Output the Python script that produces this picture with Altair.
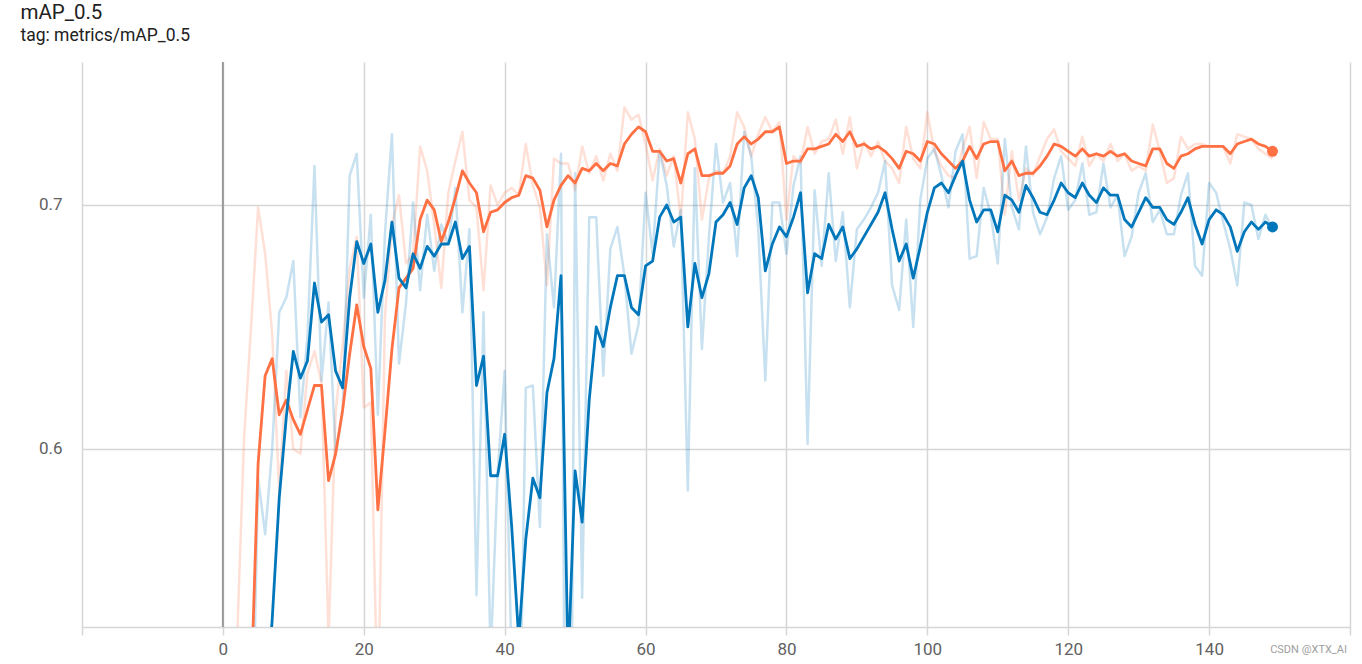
import altair as alt
import pandas as pd

epochs = list(range(150))

orange_smooth = [0.30,0.38,0.43,0.47,0.50,0.594,0.630,0.637,0.614,0.620,
0.612,0.606,0.616,0.626,0.626,0.587,0.598,0.616,0.639,0.659,
0.642,0.633,0.575,0.607,0.641,0.666,0.670,0.674,0.694,0.702,
0.698,0.685,0.693,0.703,0.714,0.709,0.705,0.689,0.697,0.698,
0.701,0.703,0.704,0.712,0.711,0.706,0.691,0.702,0.708,0.712,
0.709,0.715,0.714,0.717,0.714,0.717,0.716,0.725,0.729,0.732,
0.730,0.722,0.722,0.718,0.719,0.709,0.721,0.723,0.712,0.712,
0.713,0.713,0.716,0.725,0.728,0.725,0.727,0.730,0.730,0.732,
0.717,0.718,0.718,0.723,0.723,0.724,0.725,0.729,0.726,0.730,
0.724,0.725,0.723,0.724,0.722,0.719,0.715,0.722,0.721,0.718,
0.726,0.725,0.721,0.718,0.715,0.718,0.724,0.719,0.725,0.726,
0.726,0.714,0.718,0.712,0.713,0.713,0.716,0.720,0.725,0.724,
0.722,0.720,0.723,0.720,0.721,0.720,0.722,0.720,0.721,0.718,
0.717,0.716,0.723,0.723,0.717,0.715,0.720,0.721,0.723,0.724,
0.724,0.724,0.724,0.721,0.725,0.726,0.727,0.725,0.724,0.722]

orange_raw = [0.05,0.25,0.52,0.604,0.65,0.699,0.680,0.647,0.582,0.632,
0.600,0.598,0.631,0.640,0.627,0.522,0.615,0.643,0.674,0.687,
0.617,0.619,0.488,0.654,0.692,0.704,0.676,0.680,0.724,0.714,
0.692,0.666,0.705,0.718,0.730,0.702,0.699,0.665,0.708,0.700,
0.705,0.707,0.704,0.725,0.708,0.699,0.667,0.719,0.717,0.717,
0.706,0.724,0.713,0.720,0.710,0.721,0.714,0.740,0.735,0.737,
0.725,0.710,0.723,0.712,0.720,0.694,0.738,0.727,0.694,0.711,
0.714,0.713,0.720,0.738,0.732,0.720,0.729,0.736,0.730,0.734,
0.694,0.720,0.717,0.732,0.721,0.726,0.727,0.735,0.721,0.736,
0.715,0.726,0.720,0.726,0.718,0.715,0.709,0.732,0.719,0.715,
0.738,0.722,0.716,0.712,0.711,0.723,0.732,0.711,0.734,0.727,
0.727,0.696,0.722,0.702,0.715,0.712,0.720,0.727,0.731,0.722,
0.719,0.716,0.728,0.716,0.721,0.718,0.725,0.718,0.721,0.714,
0.716,0.714,0.733,0.722,0.709,0.711,0.728,0.723,0.725,0.725,
0.724,0.724,0.724,0.717,0.729,0.728,0.727,0.723,0.721,0.719]

blue_smooth = [0.20,0.30,0.35,0.40,0.43,0.46,0.49,0.53,0.58,0.613,
0.640,0.629,0.636,0.668,0.652,0.655,0.632,0.625,0.662,0.685,
0.676,0.684,0.656,0.669,0.693,0.670,0.666,0.680,0.674,0.683,
0.679,0.684,0.684,0.693,0.678,0.683,0.626,0.638,0.589,0.589,
0.606,0.568,0.522,0.563,0.588,0.580,0.623,0.637,0.671,0.510,
0.591,0.570,0.620,0.650,0.642,0.658,0.671,0.671,0.658,0.655,
0.675,0.677,0.695,0.700,0.693,0.695,0.650,0.676,0.662,0.672,
0.693,0.696,0.701,0.692,0.707,0.712,0.703,0.673,0.684,0.691,
0.687,0.695,0.705,0.664,0.680,0.678,0.692,0.686,0.691,0.678,
0.682,0.687,0.692,0.697,0.705,0.690,0.677,0.684,0.670,0.683,
0.697,0.707,0.709,0.705,0.712,0.718,0.702,0.693,0.698,0.698,
0.689,0.704,0.702,0.697,0.708,0.703,0.697,0.696,0.702,0.709,
0.705,0.703,0.709,0.704,0.701,0.707,0.704,0.704,0.694,0.691,
0.697,0.703,0.699,0.699,0.694,0.692,0.697,0.703,0.692,0.684,
0.694,0.698,0.696,0.691,0.681,0.689,0.693,0.690,0.693,0.691]

blue_raw = [0.02,0.10,0.20,0.30,0.45,0.588,0.565,0.600,0.656,0.662,
0.677,0.613,0.646,0.716,0.628,0.660,0.598,0.615,0.712,0.721,
0.662,0.696,0.614,0.688,0.729,0.635,0.660,0.701,0.665,0.696,
0.673,0.692,0.684,0.707,0.656,0.690,0.540,0.656,0.514,0.590,
0.632,0.511,0.453,0.625,0.626,0.568,0.688,0.658,0.721,0.269,
0.713,0.539,0.695,0.695,0.630,0.682,0.691,0.671,0.639,0.651,
0.705,0.680,0.722,0.708,0.683,0.698,0.583,0.715,0.641,0.687,
0.725,0.701,0.709,0.679,0.730,0.720,0.690,0.628,0.701,0.701,
0.680,0.708,0.720,0.602,0.706,0.675,0.713,0.677,0.697,0.658,
0.690,0.694,0.699,0.705,0.718,0.667,0.657,0.694,0.650,0.702,
0.719,0.723,0.712,0.699,0.722,0.729,0.678,0.679,0.707,0.696,
0.676,0.727,0.699,0.690,0.724,0.697,0.688,0.695,0.711,0.720,
0.698,0.702,0.717,0.696,0.697,0.717,0.699,0.704,0.679,0.687,
0.705,0.713,0.693,0.698,0.688,0.688,0.704,0.713,0.675,0.671,
0.709,0.705,0.693,0.682,0.667,0.701,0.700,0.686,0.696,0.690]

x_ticks = [-20, 0, 20, 40, 60, 80, 100, 120, 140, 160]
y_ticks = [0.6, 0.7]

ORANGE = "#ff7043"
BLUE = "#0077bb"
GRID = "#d6d6d6"

def frame(values):
    return pd.DataFrame({"epoch": epochs, "value": values})

xs = alt.Scale(domain=[-20, 160], nice=False, zero=False)
ys = alt.Scale(domain=[0.527, 0.7586], nice=False, zero=False)

x_enc = alt.X("epoch:Q", scale=xs, title=None,
              axis=alt.Axis(values=x_ticks, grid=True, gridColor=GRID, gridWidth=1.5,
                            domain=True, domainColor=GRID, domainWidth=1.5,
                            ticks=True, tickColor=GRID, tickSize=8, tickWidth=1.5,
                            labelExpr="datum.value < 0 || datum.value > 150 ? '' : datum.label",
                            labelFontSize=17, labelColor="#616161", labelFont="Roboto",
                            labelPadding=6, labelFlush=False, format="d"))
y_enc = alt.Y("value:Q", scale=ys, title=None,
              axis=alt.Axis(values=y_ticks, grid=True, gridColor=GRID, gridWidth=1.5,
                            domain=False, ticks=False, format=".1f",
                            labelFontSize=17, labelColor="#616161", labelFont="Roboto",
                            labelPadding=20))

def line(values, color, opacity, width):
    return alt.Chart(frame(values)).mark_line(
        color=color, strokeWidth=width, opacity=opacity, clip=True,
        strokeJoin="round").encode(x=x_enc, y=y_enc)

zero_rule = alt.Chart(pd.DataFrame({"epoch": [0]})).mark_rule(
    color="#9a9a9a", strokeWidth=2).encode(x=alt.X("epoch:Q", scale=xs))

def end_dot(values, color):
    df = frame(values).tail(1)
    return alt.Chart(df).mark_circle(color=color, size=120, opacity=1).encode(x=x_enc, y=y_enc)

mark_text = alt.Chart(pd.DataFrame({"t": ["CSDN @XTX_AI"]})).mark_text(
    align="right", baseline="alphabetic", fontSize=11, color="#9e9e9e",
    font="Roboto").encode(text="t:N", x=alt.value(1265), y=alt.value(591))

chart = alt.layer(
    zero_rule,
    line(orange_raw, ORANGE, 0.22, 2.5),
    line(blue_raw, BLUE, 0.22, 2.5),
    line(orange_smooth, ORANGE, 1.0, 2.8),
    line(blue_smooth, BLUE, 1.0, 2.8),
    end_dot(orange_smooth, ORANGE),
    end_dot(blue_smooth, BLUE),
    mark_text,
).properties(
    width=1268, height=565,
    background="white",
    title=alt.TitleParams("mAP_0.5", subtitle="tag: metrics/mAP_0.5", anchor="start",
                          font="Roboto", fontSize=20.5, fontWeight="normal", color="#212121",
                          subtitleFont="Roboto", subtitleFontSize=17.5, subtitleColor="#212121",
                          dx=-18, offset=17, subtitlePadding=3),
    autosize=alt.AutoSizeParams(type="none"),
    padding={"left": 82, "top": 62, "right": 12, "bottom": 37},
).configure_view(stroke=None)

chart.save("out.html", embed_options={"renderer": "svg", "actions": False})
